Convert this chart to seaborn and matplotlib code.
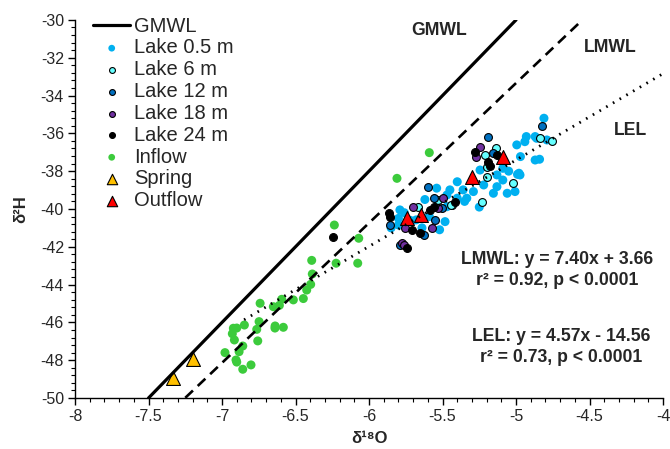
import matplotlib
matplotlib.use("Agg")
import matplotlib.pyplot as plt
import seaborn as sns
import numpy as np
import pandas as pd
from matplotlib.ticker import MultipleLocator

sns.set_theme(style="white")
plt.rcParams['font.family'] = ['Liberation Sans', 'DejaVu Sans']

# ---- data ----
x05 = [-5.79, -5.76, -5.80, -5.68, -5.64, -5.483, -5.54, -5.45, -5.40, -5.52, -5.59, -5.72, -5.80,
       -4.995, -4.93, -4.86, -4.97, -4.87, -4.98, -5.09, -5.13, -5.06, -5.007, -5.154, -5.22, -5.29,
       -5.36, -5.40, -5.245, -5.13, -5.335, -5.47, -5.47, -5.09, -4.81, -4.87, -4.94, -4.84, -4.973,
       -4.79, -4.99, -5.85, -5.62, -5.35, -5.25, -5.05]
y05 = [-40.05, -40.2, -40.5, -40.58, -41.0, -40.67, -38.9, -38.99, -39.43, -41.1, -40.4, -40.6, -40.85,
       -36.61, -36.17, -36.26, -37.23, -37.41, -38.11, -38.47, -38.82, -39.17, -39.08, -39.17, -38.73, -39.08,
       -38.99, -38.56, -37.94, -38.2, -39.43, -39.26, -39.88, -37.85, -35.2, -36.17, -36.44, -37.37, -38.2,
       -36.35, -38.17, -41.0, -39.5, -39.6, -39.9, -38.0]

x6 = [-5.665, -5.438, -5.53, -5.211, -5.136, -5.2, -5.195, -5.023, -5.234, -5.44, -4.837, -4.757]
y6 = [-39.88, -39.79, -39.52, -37.14, -36.79, -37.76, -38.33, -38.61, -39.61, -39.79, -36.26, -36.38]

x12 = [-5.857, -5.597, -5.626, -5.551, -5.789, -5.506, -5.188, -5.154, -4.82, -5.56]
y12 = [-40.85, -38.82, -41.38, -40.58, -41.9, -39.96, -36.17, -37.02, -35.61, -39.43]

x18 = [-5.70, -5.755, -5.574, -5.778, -5.495, -5.53, -5.245, -5.272, -5.76]
y18 = [-39.88, -41.02, -40.99, -41.82, -39.4, -39.93, -36.7, -37.23, -41.9]

x24 = [-6.247, -5.862, -5.857, -5.71, -5.653, -5.744, -5.585, -5.56, -5.279, -5.188, -5.18, -5.127, -5.415]
y24 = [-41.5, -40.23, -40.41, -41.11, -41.29, -42.08, -40.05, -39.88, -36.97, -37.5, -37.72, -37.14, -39.61]

xin = [-6.236, -6.224, -6.07, -6.077, -6.39, -6.386, -6.397, -6.424, -6.447, -6.515, -6.594, -6.651,
       -6.61, -6.741, -6.748, -6.639, -6.64, -6.583, -6.764, -6.848, -6.923, -6.90, -6.93, -6.916, -6.757,
       -6.859, -6.884, -6.98, -6.905, -6.90, -6.803, -6.859, -5.59, -5.81]
yin = [-40.85, -42.87, -41.55, -42.87, -42.72, -43.44, -43.99, -44.29, -44.74, -44.81, -44.78, -45.17,
       -45.1, -44.99, -45.96, -46.19, -46.3, -46.26, -46.37, -46.14, -46.31, -46.3, -46.6, -46.93, -46.98,
       -47.25, -47.55, -47.6, -47.99, -48.1, -48.25, -48.48, -37.02, -38.38]

xsp = [-7.335, -7.20]
ysp = [-48.96, -47.95]

xout = [-5.74, -5.648, -5.297, -5.087]
yout = [-40.49, -40.32, -38.33, -37.23]

# lines: slope, intercept, x-range
gmwl = dict(slope=8.0, icpt=10.0, xr=[-7.5, -5.0])
lmwl = dict(slope=7.40, icpt=3.66, xr=[-7.25, -4.55])
lel = dict(slope=4.57, icpt=-14.56, xr=[-6.85, -4.0])

# ---- figure ----
fig = plt.figure(figsize=(6.7, 4.49), dpi=100)
ax = fig.add_axes([0.112, 0.1136, 0.8776, 0.842])

def line_df(d):
    xs = np.array(d['xr'])
    return pd.DataFrame({'x': xs, 'y': d['slope'] * xs + d['icpt']})

groups = [
    ("Lake 0.5 m", x05, y05, "#00B0F0", "o", 42, "none", 0),
    ("Inflow", xin, yin, "#3CCB3C", "o", 42, "none", 0),
    ("Lake 6 m", x6, y6, "#66FFFF", "o", 32, "black", 0.8),
    ("Lake 12 m", x12, y12, "#0070C0", "o", 32, "black", 0.8),
    ("Lake 18 m", x18, y18, "#7030A0", "o", 32, "black", 0.8),
    ("Lake 24 m", x24, y24, "black", "o", 32, "black", 0.8),
    ("Spring", xsp, ysp, "#FFC000", "^", 100, "black", 0.8),
    ("Outflow", xout, yout, "#FF0000", "^", 100, "black", 0.8),
]
for name, xs, ys, c, m, s, ec, lw in groups:
    df = pd.DataFrame({'x': xs, 'y': ys})
    sns.scatterplot(data=df, x='x', y='y', ax=ax, color=c, marker=m, s=s,
                    edgecolor=ec, linewidth=lw, zorder=3, label=name)

sns.lineplot(data=line_df(gmwl), x='x', y='y', ax=ax, color='black', lw=2.3, zorder=4, label='GMWL')
sns.lineplot(data=line_df(lmwl), x='x', y='y', ax=ax, color='black', lw=1.9, zorder=4,
             linestyle=(0, (4, 2.5)))
sns.lineplot(data=line_df(lel), x='x', y='y', ax=ax, color='black', lw=2.0, zorder=4,
             linestyle=(0, (0.6, 2.2)))

ax.set_xlim(-8, -4)
ax.set_ylim(-50, -30)
ax.xaxis.set_major_locator(MultipleLocator(0.5))
ax.xaxis.set_minor_locator(MultipleLocator(0.1))
ax.yaxis.set_major_locator(MultipleLocator(2))
ax.yaxis.set_minor_locator(MultipleLocator(0.4))
ax.tick_params(which='major', direction='out', length=5, width=1, color='black',
               labelsize=11.5, left=True, bottom=True, pad=3)
ax.tick_params(which='minor', direction='out', length=3, width=0.8, color='black', left=True, bottom=True)
ax.set_xticklabels([f"{v:g}" for v in ax.get_xticks()])
ax.set_yticklabels([f"{v:g}" for v in ax.get_yticks()])
for sp in ['top', 'right']:
    ax.spines[sp].set_visible(False)
for sp in ['left', 'bottom']:
    ax.spines[sp].set_color('black')
    ax.spines[sp].set_linewidth(1)

ax.set_xlabel("δ¹⁸O", fontsize=12, fontweight='bold', labelpad=5)
ax.set_ylabel("δ²H", fontsize=12, fontweight='bold', labelpad=9)

# texts
tfs = 12.7
ax.text(-5.52, -30.55, "GMWL", fontsize=tfs, fontweight='bold', ha='center', va='center')
ax.text(-4.36, -31.45, "LMWL", fontsize=tfs, fontweight='bold', ha='center', va='center')
ax.text(-4.22, -35.85, "LEL", fontsize=tfs, fontweight='bold', ha='center', va='center')
ax.text(-4.72, -43.25, "LMWL: y = 7.40x + 3.66\nr² = 0.92, p < 0.0001", fontsize=tfs,
        fontweight='bold', ha='center', va='center', linespacing=1.3)
ax.text(-4.69, -47.3, "LEL: y = 4.57x - 14.56\nr² = 0.73, p < 0.0001", fontsize=tfs,
        fontweight='bold', ha='center', va='center', linespacing=1.3)

# legend
h, l = ax.get_legend_handles_labels()
order = ["GMWL", "Lake 0.5 m", "Lake 6 m", "Lake 12 m", "Lake 18 m", "Lake 24 m", "Inflow", "Spring", "Outflow"]
hd = dict(zip(l, h))
leg = ax.legend([hd[k] for k in order], order, loc='upper left', bbox_to_anchor=(0.017, 1.03),
                frameon=False, fontsize=14.5, labelspacing=0.14, handlelength=1.85,
                handletextpad=0.2, borderaxespad=0, markerscale=0.75)

fig.savefig("out.png", dpi=100)
